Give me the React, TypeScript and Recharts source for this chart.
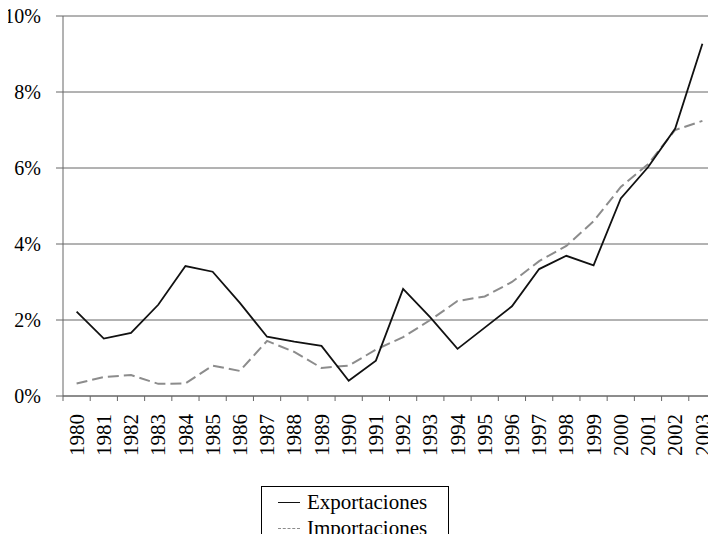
import React from "react";
import { LineChart, Line, XAxis, YAxis, CartesianGrid } from "recharts";

const years = [
  "1980", "1981", "1982", "1983", "1984", "1985", "1986", "1987", "1988", "1989", "1990", "1991",
  "1992", "1993", "1994", "1995", "1996", "1997", "1998", "1999", "2000", "2001", "2002", "2003",
];
const exportaciones = [
  2.22, 1.51, 1.66, 2.4, 3.42, 3.27, 2.45, 1.56, 1.43, 1.32, 0.4, 0.93,
  2.82, 2.07, 1.24, 1.8, 2.36, 3.34, 3.69, 3.44, 5.2, 6.02, 7.04, 9.27,
];
const importaciones = [
  0.33, 0.5, 0.55, 0.32, 0.33, 0.8, 0.66, 1.45, 1.16, 0.74, 0.8, 1.22,
  1.55, 2.0, 2.5, 2.62, 3.0, 3.55, 3.95, 4.6, 5.5, 6.1, 7.0, 7.24,
];
const yTicks = [0, 2, 4, 6, 8, 10];
const xBoundaries = years.map((_, i) => i).concat([years.length]);

const data = years.map((year, i) => ({
  x: i + 0.5,
  year,
  exp: exportaciones[i],
  imp: importaciones[i],
}));

const FONT = '"Liberation Serif", monospace';

const XTick = (props: any) => {
  const { x, y, payload } = props;
  const idx = payload.value as number;
  if (idx >= years.length) return null;
  const band = 653 / years.length;
  const fs = 21;
  const cx = x + band / 2 + fs * 0.34;
  return (
    <text
      transform={`translate(${cx},${y + 11}) rotate(-90)`}
      textAnchor="end"
      fontFamily={FONT}
      fontSize={fs}
      fill="#000"
    >
      {years[idx]}
    </text>
  );
};

export default function App() {
  return (
    <div style={{ margin: -8, position: "relative", width: 716, height: 542 }}>
      <LineChart width={716} height={542} data={data} margin={{ top: 16, right: 0, bottom: 0, left: 0 }}>
        <CartesianGrid horizontal vertical={false} stroke="#666" strokeWidth={1} />
        <XAxis
          type="number"
          dataKey="x"
          domain={[0, years.length]}
          ticks={xBoundaries}
          interval={0}
          height={146}
          axisLine={{ stroke: "#666", strokeWidth: 1 }}
          tickLine={{ stroke: "#666", strokeWidth: 1 }}
          tickSize={5}
          tick={<XTick />}
        />
        <YAxis
          type="number"
          domain={[0, 10]}
          ticks={yTicks}
          width={63}
          interval={0}
          axisLine={{ stroke: "#666", strokeWidth: 1 }}
          tickLine={{ stroke: "#666", strokeWidth: 1 }}
          tickSize={7}
          tickMargin={15}
          tickFormatter={(v: number) => `${v}%`}
          tick={{ fontFamily: FONT, fontSize: 20, fill: "#000" }}
        />
        <Line
          type="linear"
          dataKey="imp"
          stroke="#8c8c8c"
          strokeWidth={2}
          strokeDasharray="11 5"
          dot={false}
          isAnimationActive={false}
        />
        <Line
          type="linear"
          dataKey="exp"
          stroke="#111"
          strokeWidth={1.8}
          dot={false}
          isAnimationActive={false}
        />
      </LineChart>
      <div
        style={{
          position: "absolute",
          left: 261,
          top: 486,
          width: 188,
          height: 56,
          borderTop: "1px solid #000",
          borderLeft: "1px solid #000",
          borderRight: "1px solid #000",
          background: "#fff",
          fontFamily: FONT,
          fontSize: 21,
          lineHeight: "26px",
          color: "#000",
          boxSizing: "border-box",
          paddingTop: 2,
        }}
      >
        <div style={{ display: "flex", alignItems: "center" }}>
          <span style={{ display: "inline-block", width: 22, height: 0, borderTop: "1.5px solid #111", marginLeft: 16, marginRight: 7 }} />
          <span>Exportaciones</span>
        </div>
        <div style={{ display: "flex", alignItems: "center" }}>
          <span style={{ display: "inline-block", width: 22, height: 0, borderTop: "1.5px dashed #8c8c8c", marginLeft: 16, marginRight: 7 }} />
          <span>Importaciones</span>
        </div>
      </div>
    </div>
  );
}
